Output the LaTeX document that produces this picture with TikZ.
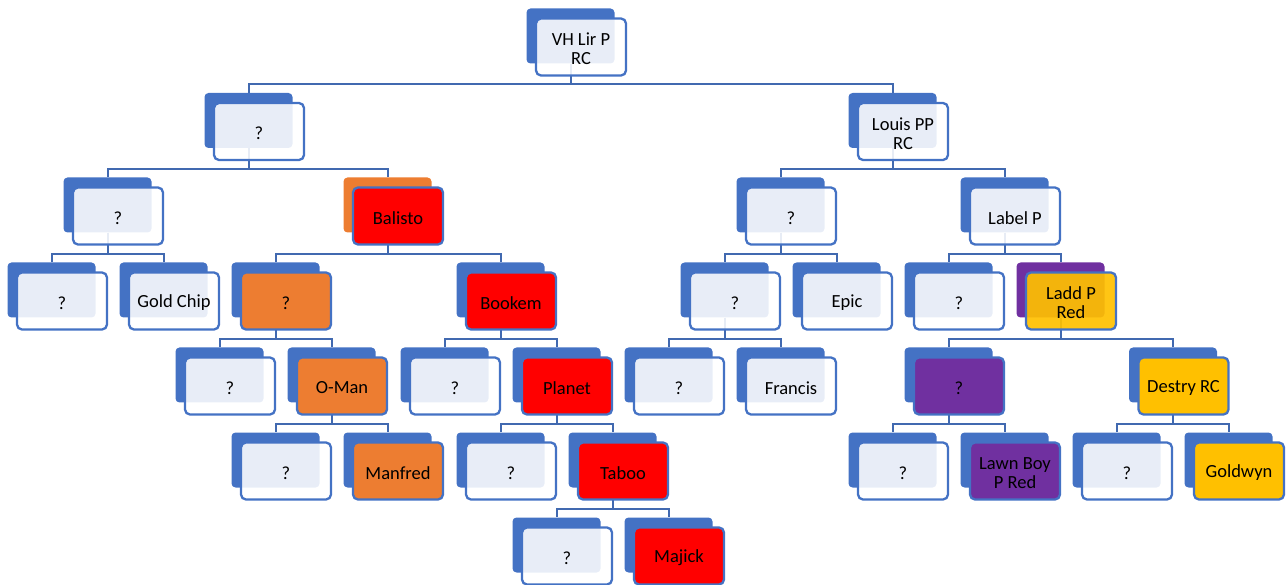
\documentclass[tikz,border=0pt]{standalone}
\usepackage{fontspec}
\setmainfont{Carlito}
\usetikzlibrary{backgrounds,calc}
\definecolor{accent}{HTML}{4472C4}
\definecolor{linkblue}{HTML}{4169B0}
\definecolor{msorange}{HTML}{ED7D31}
\definecolor{msred}{HTML}{FF0000}
\definecolor{msgold}{HTML}{FFC000}
\definecolor{mspurple}{HTML}{7030A0}
\tikzset{
  backbox/.style={rectangle, rounded corners=4pt, minimum width=88pt, minimum height=55pt,
    inner sep=0pt, draw=none, fill=accent},
  frontbox/.style={rectangle, rounded corners=5pt, minimum width=90pt, minimum height=57pt,
    inner sep=0pt, draw=accent, line width=2.3pt},
  cardtext/.style={align=center, inner sep=0pt, font=\fontsize{18.5}{19}\selectfont, text=black},
  plain/.style={fill=white, fill opacity=0.88},
  orangefill/.style={fill=msorange},
  redfill/.style={fill=msred},
  goldfill/.style={fill=msgold},
  purplefill/.style={fill=mspurple},
  conn/.style={draw=linkblue, line width=2pt},
}
% #1 name, #2 x, #3 y, #4 colour of the rear card, #5 style of the front card, #6 label
\newcommand\treenode[6]{%
  \node[backbox, fill=#4] (#1-back) at (#2-10.5,#3-11) {};
  \node[frontbox, #5] (#1) at (#2,#3) {};
  \node[cardtext] (#1-text) at (#2,#3+1.8) {#6};
}
% elbow connector from parent to child
\newcommand\link[2]{%
  \draw[conn] (#1-back.south) |- ($(#2-back.north)+(0,-8.5)$) -- (#2-back.north);
}
\begin{document}
\begin{tikzpicture}[x=1pt, y=-1pt]
\useasboundingbox (0,0) rectangle (1286,585);

% level 0
\treenode{r}{581}{47}{accent}{plain}{VH Lir P\\RC}
% level 1
\treenode{a}{259}{131.5}{accent}{plain}{?}
\treenode{b}{903}{131.5}{accent}{plain}{Louis PP\\RC}
% level 2
\treenode{aa}{118}{216}{accent}{plain}{?}
\treenode{ab}{398}{216}{msorange}{redfill}{Balisto}
\treenode{ba}{791}{216}{accent}{plain}{?}
\treenode{bb}{1015}{216}{accent}{plain}{Label P}
% level 3
\treenode{aaa}{62}{301}{accent}{plain}{?}
\treenode{aab}{174}{301}{accent}{plain}{Gold Chip}
\treenode{aba}{286}{301}{accent}{orangefill}{?}
\treenode{abb}{511}{301}{accent}{redfill}{Bookem}
\treenode{baa}{735}{301}{accent}{plain}{?}
\treenode{bab}{847}{301}{accent}{plain}{Epic}
\treenode{bba}{959}{301}{accent}{plain}{?}
\treenode{bbb}{1071}{301}{mspurple}{goldfill, fill opacity=0.92}{Ladd P\\Red}
% level 4
\treenode{abaa}{230}{386}{accent}{plain}{?}
\treenode{abab}{342}{386}{accent}{orangefill}{O-Man}
\treenode{abba}{455}{386}{accent}{plain}{?}
\treenode{abbb}{567}{386}{accent}{redfill}{Planet}
\treenode{baaa}{679}{386}{accent}{plain}{?}
\treenode{baab}{791}{386}{accent}{plain}{Francis}
\treenode{bbba}{959}{386}{accent}{purplefill}{?}
\treenode{bbbb}{1183.5}{386}{accent}{goldfill}{Destry RC}
% level 5
\treenode{ababa}{286}{471}{accent}{plain}{?}
\treenode{ababb}{398}{471}{accent}{orangefill}{Manfred}
\treenode{abbba}{511}{471}{accent}{plain}{?}
\treenode{abbbb}{623}{471}{accent}{redfill}{Taboo}
\treenode{bbbaa}{903}{471}{accent}{plain}{?}
\treenode{bbbab}{1015}{471}{accent}{purplefill}{Lawn Boy\\P Red}
\treenode{bbbba}{1127}{471}{accent}{plain}{?}
\treenode{bbbbb}{1239}{471}{accent}{goldfill}{Goldwyn}
% level 6
\treenode{abbbba}{567}{556}{accent}{plain}{?}
\treenode{abbbbb}{679}{556}{accent}{redfill}{Majick}

\begin{scope}[on background layer]
  \link{r}{a}   \link{r}{b}
  \link{a}{aa}  \link{a}{ab}
  \link{b}{ba}  \link{b}{bb}
  \link{aa}{aaa} \link{aa}{aab}
  \link{ab}{aba} \link{ab}{abb}
  \link{ba}{baa} \link{ba}{bab}
  \link{bb}{bba} \link{bb}{bbb}
  \link{aba}{abaa} \link{aba}{abab}
  \link{abb}{abba} \link{abb}{abbb}
  \link{baa}{baaa} \link{baa}{baab}
  \link{bbb}{bbba} \link{bbb}{bbbb}
  \link{abab}{ababa} \link{abab}{ababb}
  \link{abbb}{abbba} \link{abbb}{abbbb}
  \link{bbba}{bbbaa} \link{bbba}{bbbab}
  \link{bbbb}{bbbba} \link{bbbb}{bbbbb}
  \link{abbbb}{abbbba} \link{abbbb}{abbbbb}
\end{scope}
\end{tikzpicture}
\end{document}
